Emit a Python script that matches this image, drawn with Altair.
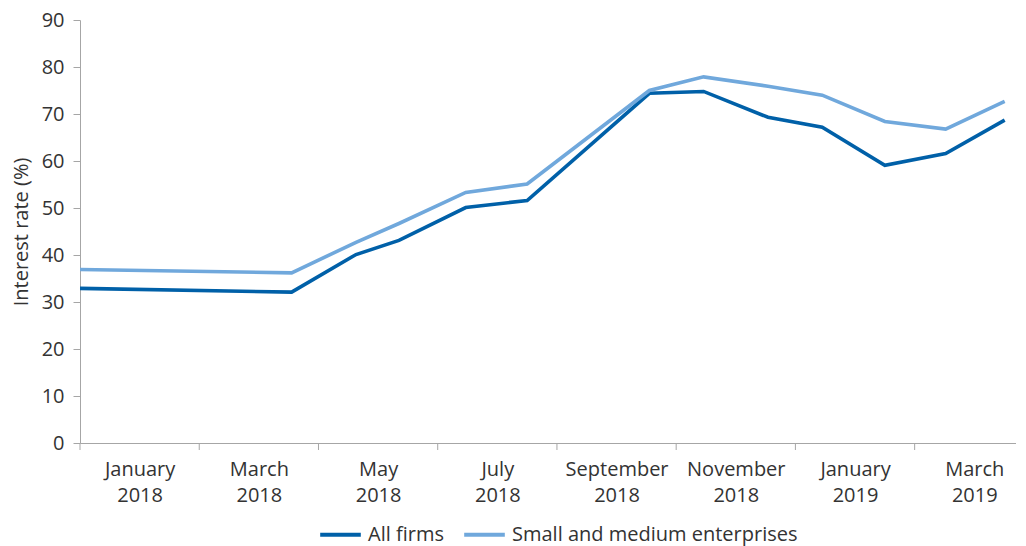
import altair as alt
import pandas as pd

# month positions (0 = start of January 2018)
months = [0, 3.55, 4.63, 5.35, 6.47, 7.5, 9.55, 10.46, 11.54, 12.45, 13.5, 14.52, 15.51]
all_firms = [32.9, 32.1, 40.1, 43.1, 50.1, 51.6, 74.4, 74.8, 69.3, 67.2, 59.1, 61.6, 68.7]
sme = [36.9, 36.2, 42.7, 46.7, 53.3, 55.1, 75.0, 77.9, 75.9, 74.0, 68.4, 66.8, 72.7]

series_names = ["All firms", "Small and medium enterprises"]
series_colors = ["#0060a8", "#70a8dc"]

label_pos = [1, 3, 5, 7, 9, 11, 13, 15]
label_month = ["January", "March", "May", "July", "September", "November", "January", "March"]
label_year = ["2018", "2018", "2018", "2018", "2018", "2018", "2019", "2019"]
tick_pos = [0, 2, 4, 6, 8, 10, 12, 14]
y_ticks = [0, 10, 20, 30, 40, 50, 60, 70, 80, 90]

rows = []
for m, a in zip(months, all_firms):
    rows.append({"m": m, "v": a, "s": series_names[0]})
for m, b in zip(months, sme):
    rows.append({"m": m, "v": b, "s": series_names[1]})
df = pd.DataFrame(rows)

expr = ""
for p, mo, yr in zip(label_pos, label_month, label_year):
    expr += f"datum.value == {p} ? ['{mo}', '{yr}'] : "
expr += "''"

W, H = 936, 423
xscale = alt.Scale(domain=[0, 15.70], nice=False, zero=False)
xaxis = alt.Axis(values=label_pos, ticks=False, grid=False, labelExpr=expr,
                 labelAngle=0, labelPadding=16, labelLineHeight=26,
                 labelBaseline="top", title=None)

lines = alt.Chart(df).mark_line(strokeWidth=3.6, strokeJoin="miter").encode(
    x=alt.X("m:Q", scale=xscale, axis=xaxis),
    y=alt.Y("v:Q", scale=alt.Scale(domain=[0, 90], nice=False),
            axis=alt.Axis(values=y_ticks, grid=False, tickSize=7, labelPadding=9,
                          title="Interest rate (%)", titlePadding=10)),
    color=alt.Color("s:N", scale=alt.Scale(domain=series_names, range=series_colors),
                    legend=alt.Legend(orient="none", legendX=238, legendY=492,
                                      direction="horizontal", title=None,
                                      symbolType="stroke", symbolSize=1650,
                                      symbolStrokeWidth=4, labelOffset=5,
                                      columnPadding=12, labelLimit=500)),
    detail="s:N",
)

tdf = pd.DataFrame({"t": tick_pos})
ticks = alt.Chart(tdf).mark_rule(color="#a6a6a6", strokeWidth=1).encode(
    x=alt.X("t:Q", scale=xscale, axis=xaxis),
    y=alt.value(H),
    y2=alt.value(H + 7),
)

chart = alt.layer(lines, ticks).properties(
    width=W, height=H,
    autosize=alt.AutoSizeParams(type="none"),
    padding={"left": 72, "top": 12, "right": 0, "bottom": 103},
).configure_view(stroke=None).configure_axis(
    domainColor="#a6a6a6", tickColor="#a6a6a6", labelColor="#333333",
    titleColor="#333333", labelFont="Open Sans", titleFont="Open Sans",
    labelFontSize=20, titleFontSize=20, titleFontWeight="normal",
).configure_legend(
    labelFont="Open Sans", labelFontSize=20, labelColor="#333333",
)

chart.save("out.html", embed_options={"renderer": "svg", "actions": False})
